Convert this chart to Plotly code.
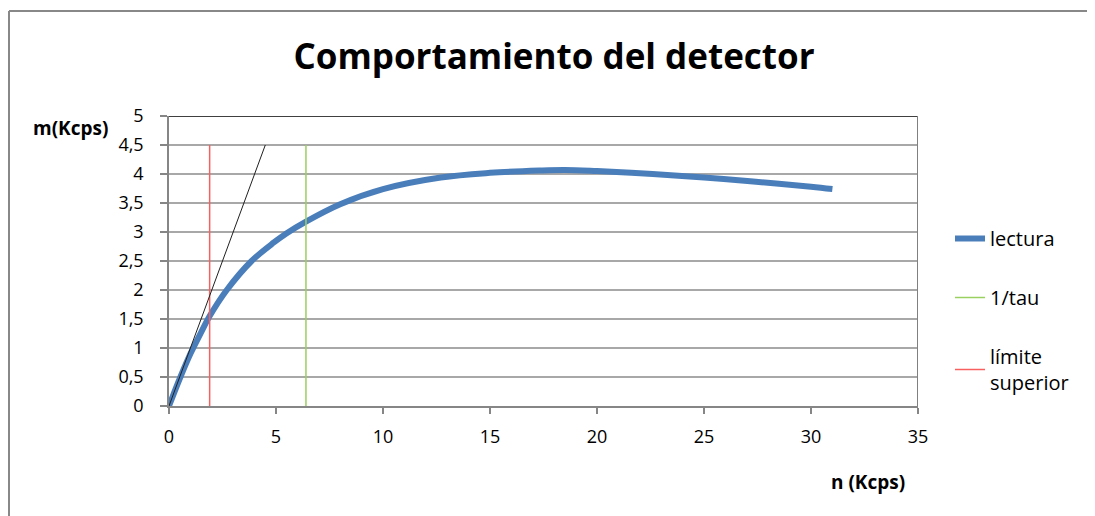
import plotly.graph_objects as go

# ---- data ----
n_lectura = [0, 0.5, 1.0, 1.5, 1.9, 2.7, 3.86, 4.9, 5.5, 6.4, 8.0, 10.0,
             12.7, 15.0, 17.3, 18.5, 20.0, 22.6, 25.0, 27.3, 30.0, 31.0]
m_lectura = [0, 0.47, 0.9, 1.27, 1.55, 2.0, 2.5, 2.82, 2.98, 3.18, 3.48, 3.74,
             3.94, 4.02, 4.06, 4.07, 4.05, 4.0, 3.94, 3.87, 3.78, 3.74]

n_tau = [6.4, 6.4]
m_tau = [0, 4.5]

n_limite = [1.9, 1.9]
m_limite = [0, 4.5]

n_recta = [0, 4.5]
m_recta = [0, 4.5]

x_ticks = [0, 5, 10, 15, 20, 25, 30, 35]
y_ticks = [0, 0.5, 1, 1.5, 2, 2.5, 3, 3.5, 4, 4.5, 5]

FONT = "Open Sans"
OFF = 8  # page offset of the figure inside the browser window

# plot area in screen px: x 169..918, y 116..406
L, R, T, B = 169 - OFF, 918 - OFF, 116 - OFF, 406 - OFF


def px(x):
    return (x - OFF - L) / float(R - L)


def py(y):
    return (B - (y - OFF)) / float(B - T)


fig = go.Figure()
fig.add_trace(go.Scatter(x=n_lectura, y=m_lectura, mode="lines", name="lectura",
                         line=dict(color="#4a7ebb", width=6, shape="spline"),
                         legendgroup="a"))
fig.add_trace(go.Scatter(x=n_tau, y=m_tau, mode="lines", name="1/tau",
                         line=dict(color="#9ad060", width=1.5), legendgroup="b"))
fig.add_trace(go.Scatter(x=n_limite, y=m_limite, mode="lines",
                         name="límite<br>superior",
                         line=dict(color="#f86060", width=1.5), legendgroup="c"))
fig.add_trace(go.Scatter(x=n_recta, y=m_recta, mode="lines", showlegend=False,
                         line=dict(color="#202020", width=1)))

shapes = [
    # plot-area top border (black) and right border (grey)
    dict(type="line", xref="x", yref="y", x0=0, x1=35, y0=5, y1=5,
         line=dict(color="#000000", width=1.5)),
    dict(type="line", xref="x", yref="y", x0=35, x1=35, y0=0, y1=5,
         line=dict(color="#808080", width=2)),
    # chart-area border
    dict(type="line", xref="paper", yref="paper", x0=px(9), x1=px(9),
         y0=py(11), y1=py(530), line=dict(color="#888888", width=2)),
    dict(type="line", xref="paper", yref="paper", x0=px(9), x1=px(1110),
         y0=py(11), y1=py(11), line=dict(color="#888888", width=2)),
]

annotations = [
    dict(text="<b>m(Kcps)</b>", xref="paper", yref="paper", x=px(70), y=py(128),
         xanchor="center", yanchor="middle", showarrow=False,
         font=dict(family=FONT, size=19, color="#000000")),
    dict(text="<b>n (Kcps)</b>", xref="paper", yref="paper", x=px(868), y=py(482),
         xanchor="center", yanchor="middle", showarrow=False,
         font=dict(family=FONT, size=19, color="#000000")),
]

fig.update_layout(
    width=1095, height=516,
    margin=dict(l=L, r=1095 - R, t=T, b=516 - B),
    paper_bgcolor="white", plot_bgcolor="white",
    separators=",.",
    title=dict(text="<b>Comportamiento del detector</b>", xref="container",
               yref="container",
               x=(554 - OFF) / 1095.0, y=1 - (57 - OFF) / 516.0,
               xanchor="center", yanchor="middle",
               font=dict(family=FONT, size=35, color="#000000")),
    font=dict(family=FONT, size=18, color="#000000"),
    xaxis=dict(range=[0, 35], tickvals=x_ticks, showgrid=False, zeroline=False,
               showline=True, linecolor="#868686", linewidth=1.5,
               ticks="outside", ticklen=6, tickcolor="#868686", tickwidth=1.5,
               ticklabelstandoff=8,
               tickfont=dict(family=FONT, size=18)),
    yaxis=dict(range=[0, 5], tickvals=y_ticks, showgrid=True, gridcolor="#a8a8a8",
               gridwidth=1.5, zeroline=False, showline=True, linecolor="#868686",
               linewidth=1.5, ticks="outside", ticklen=7, tickcolor="#868686",
               tickwidth=1.5, ticklabelstandoff=13,
               tickfont=dict(family=FONT, size=18)),
    legend=dict(x=px(950), y=py(219), xanchor="left", yanchor="top",
                font=dict(family=FONT, size=20, color="#000000"),
                tracegroupgap=30, traceorder="grouped", bgcolor="rgba(0,0,0,0)"),
    shapes=shapes,
    annotations=annotations,
)

fig.write_html("out.html")
